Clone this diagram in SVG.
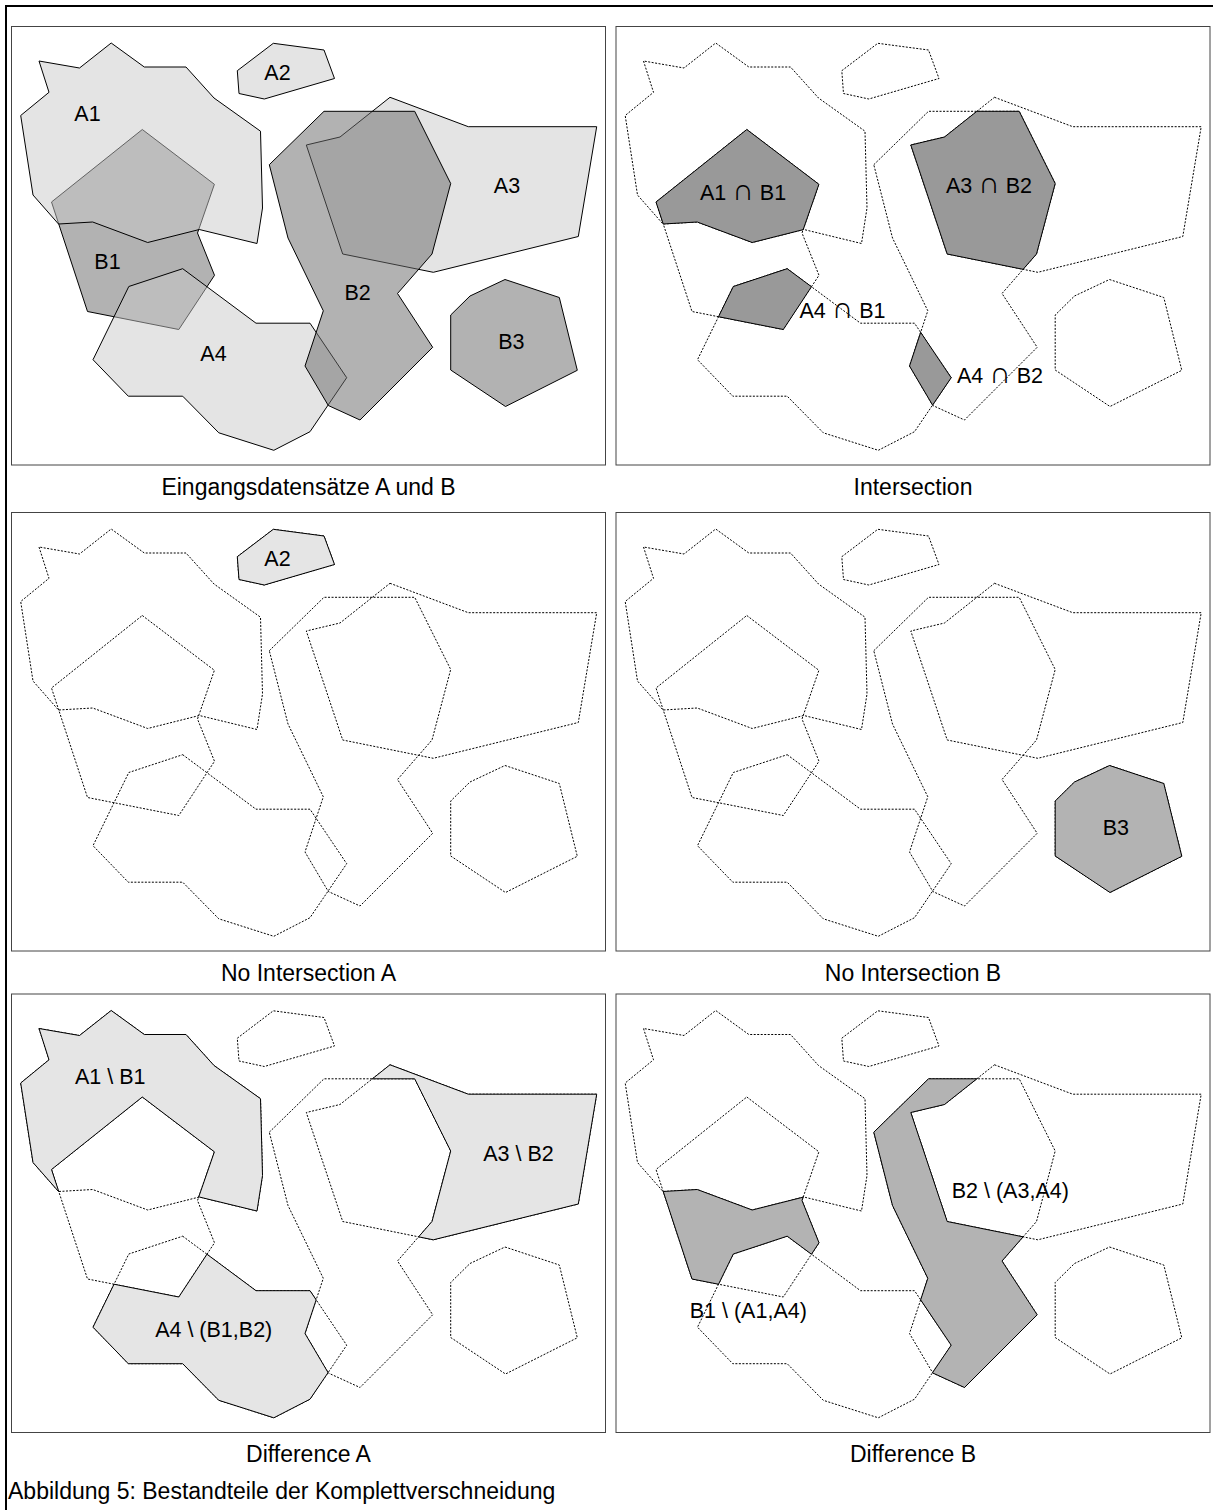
<svg xmlns="http://www.w3.org/2000/svg" width="1213" height="1510" viewBox="0 0 1213 1510">
<style>
text{font-family:"Liberation Sans",Arial,"DejaVu Sans",sans-serif;fill:#000}
.lbl{font-size:21.5px;text-anchor:middle}
.cap{font-size:23px;text-anchor:middle}
.fig{font-size:23px}
.op{font-family:"Liberation Sans",Arial,sans-serif;font-size:30px}
.frame{fill:#fff;stroke:#444;stroke-width:1}
.outer{fill:none;stroke:#000;stroke-width:2}
.dot{fill:none;stroke:#000;stroke-width:1;stroke-dasharray:2 1.5}
.a0{fill:#c8c8c8;fill-opacity:.49;stroke:#000;stroke-width:1}
.b0{fill:#6c6c6c;fill-opacity:.52;stroke:#000;stroke-width:1}
.ra{fill:#e5e5e5;stroke:#000;stroke-width:1}
.rb{fill:#b3b3b3;stroke:#000;stroke-width:1}
.ri{fill:#999;stroke:#000;stroke-width:1}
.ln{fill:none;stroke:#000;stroke-width:1}
</style>
<defs>
<polygon id="pA1" points="39,61 49,92.3 20.7,115.5 33,195 58.5,224 92.7,222 147.7,242.5 199.3,229.5 257,243.5 262.5,208 260.5,131.2 214,98 186,67 144.3,67 111.2,43 79.5,68"/>
<polygon id="pA2" points="237.3,70.7 273.3,43.3 324,50 334.5,78.5 264.3,99 239,93.5"/>
<polygon id="pA3" points="390,97.3 468.3,126.7 596.7,126.7 578.3,236.5 433.3,272.3 342.7,254 306.3,145 340,137"/>
<polygon id="pA4" points="182.7,268.7 256,323.2 310,323.2 346.7,377.7 310,431.7 273.8,450.3 218.8,432.8 182.7,396.2 128.3,396.2 93,359.7 128.8,286.5"/>
<polygon id="pB1" points="142.3,129.5 214.4,184.3 197.5,233 214.5,275.3 178.8,329.5 87.5,311.5 51.5,202"/>
<polygon id="pB2" points="269.3,164.7 324,111.3 414.7,111.3 450.7,183.5 432,254 397.5,293.5 432.7,347.3 360,420 328.3,405.5 305,366 323.3,310.8 288,238"/>
<polygon id="pB3" points="505,279.5 559.3,297.5 577.3,370.3 505.5,406.5 450.7,370 450.7,315 470,296"/>
<rect id="panel" x="11.5" y="26.5" width="594" height="438.5"/>
<g id="dots" class="dot">
<use href="#pA1"/><use href="#pA2"/><use href="#pA3"/><use href="#pA4"/>
<use href="#pB1"/><use href="#pB2"/><use href="#pB3"/>
</g>
<clipPath id="cA1"><use href="#pA1"/></clipPath>
<clipPath id="cA3"><use href="#pA3"/></clipPath>
<clipPath id="cA4"><use href="#pA4"/></clipPath>
<clipPath id="cB1"><use href="#pB1"/></clipPath>
<clipPath id="cB2"><use href="#pB2"/></clipPath>
<mask id="mB1" maskUnits="userSpaceOnUse" x="0" y="0" width="700" height="500"><rect width="700" height="500" fill="#fff"/><use href="#pB1" fill="#000"/></mask>
<mask id="mB2" maskUnits="userSpaceOnUse" x="0" y="0" width="700" height="500"><rect width="700" height="500" fill="#fff"/><use href="#pB2" fill="#000"/></mask>
<mask id="mB12" maskUnits="userSpaceOnUse" x="0" y="0" width="700" height="500"><rect width="700" height="500" fill="#fff"/><use href="#pB1" fill="#000"/><use href="#pB2" fill="#000"/></mask>
<mask id="mA14" maskUnits="userSpaceOnUse" x="0" y="0" width="700" height="500"><rect width="700" height="500" fill="#fff"/><use href="#pA1" fill="#000"/><use href="#pA4" fill="#000"/></mask>
<mask id="mA34" maskUnits="userSpaceOnUse" x="0" y="0" width="700" height="500"><rect width="700" height="500" fill="#fff"/><use href="#pA3" fill="#000"/><use href="#pA4" fill="#000"/></mask>
</defs>
<rect width="1213" height="1510" fill="#fff"/>
<path class="outer" d="M6,1512 V6 H1215"/>

<g id="panel-input">
<use href="#panel" class="frame"/>
<use href="#pB1" class="b0"/>
<use href="#pA1" class="a0"/>
<use href="#pA4" class="a0"/>
<use href="#pA2" class="a0"/>
<use href="#pA3" class="a0"/>
<use href="#pB2" class="b0"/>
<use href="#pB3" class="b0"/>
<text class="lbl" x="87.5" y="120.7">A1</text>
<text class="lbl" x="277.5" y="80">A2</text>
<text class="lbl" x="507" y="192.7">A3</text>
<text class="lbl" x="107.5" y="269">B1</text>
<text class="lbl" x="213.5" y="360.7">A4</text>
<text class="lbl" x="357.7" y="300">B2</text>
<text class="lbl" x="511.3" y="349">B3</text>
</g>

<g id="panel-intersection" transform="translate(604.5,0)">
<use href="#panel" class="frame"/>
<use href="#dots"/>
<g clip-path="url(#cA1)"><use href="#pB1" class="ri"/></g>
<use href="#pA1" class="ln" clip-path="url(#cB1)"/>
<g clip-path="url(#cA3)"><use href="#pB2" class="ri"/></g>
<use href="#pA3" class="ln" clip-path="url(#cB2)"/>
<g clip-path="url(#cA4)"><use href="#pB1" class="ri"/></g>
<use href="#pA4" class="ln" clip-path="url(#cB1)"/>
<g clip-path="url(#cA4)"><use href="#pB2" class="ri"/></g>
<use href="#pA4" class="ln" clip-path="url(#cB2)"/>
<text class="lbl" x="138.6" y="200">A1 <tspan class="op">∩</tspan> B1</text>
<text class="lbl" x="384.5" y="192.7">A3 <tspan class="op">∩</tspan> B2</text>
<text class="lbl" x="238" y="318.3">A4 <tspan class="op">∩</tspan> B1</text>
<text class="lbl" x="395.5" y="383.3">A4 <tspan class="op">∩</tspan> B2</text>
</g>

<g id="panel-noint-a" transform="translate(0,486)">
<use href="#panel" class="frame"/>
<use href="#dots"/>
<use href="#pA2" class="ra"/>
<text class="lbl" x="277.5" y="80">A2</text>
</g>

<g id="panel-noint-b" transform="translate(604.5,486)">
<use href="#panel" class="frame"/>
<use href="#dots"/>
<use href="#pB3" class="rb"/>
<text class="lbl" x="511.3" y="349">B3</text>
</g>

<g id="panel-diff-a" transform="translate(0,967.5)">
<use href="#panel" class="frame"/>
<use href="#dots"/>
<g mask="url(#mB1)"><use href="#pA1" class="ra"/></g>
<use href="#pB1" class="ln" clip-path="url(#cA1)"/>
<g mask="url(#mB2)"><use href="#pA3" class="ra"/></g>
<use href="#pB2" class="ln" clip-path="url(#cA3)"/>
<g mask="url(#mB12)"><use href="#pA4" class="ra"/></g>
<use href="#pB1" class="ln" clip-path="url(#cA4)"/>
<use href="#pB2" class="ln" clip-path="url(#cA4)"/>
<text class="lbl" x="110.2" y="116.8">A1 \ B1</text>
<text class="lbl" x="518.5" y="193.2">A3 \ B2</text>
<text class="lbl" x="213.7" y="369.2">A4 \ (B1,B2)</text>
</g>

<g id="panel-diff-b" transform="translate(604.5,967.5)">
<use href="#panel" class="frame"/>
<use href="#dots"/>
<g mask="url(#mA14)"><use href="#pB1" class="rb"/></g>
<use href="#pA1" class="ln" clip-path="url(#cB1)"/>
<use href="#pA4" class="ln" clip-path="url(#cB1)"/>
<g mask="url(#mA34)"><use href="#pB2" class="rb"/></g>
<use href="#pA3" class="ln" clip-path="url(#cB2)"/>
<use href="#pA4" class="ln" clip-path="url(#cB2)"/>
<text class="lbl" x="405.8" y="230.8">B2 \ (A3,A4)</text>
<text class="lbl" x="143.8" y="350.8">B1 \ (A1,A4)</text>
</g>

<g id="captions">
<text class="cap" x="308.5" y="494.5">Eingangsdatensätze A und B</text>
<text class="cap" x="913" y="494.5">Intersection</text>
<text class="cap" x="308.5" y="980.5">No Intersection A</text>
<text class="cap" x="913" y="980.5">No Intersection B</text>
<text class="cap" x="308.5" y="1462">Difference A</text>
<text class="cap" x="913" y="1462">Difference B</text>
<text class="fig" x="8" y="1499">Abbildung 5: Bestandteile der Komplettverschneidung</text>
</g>
</svg>
